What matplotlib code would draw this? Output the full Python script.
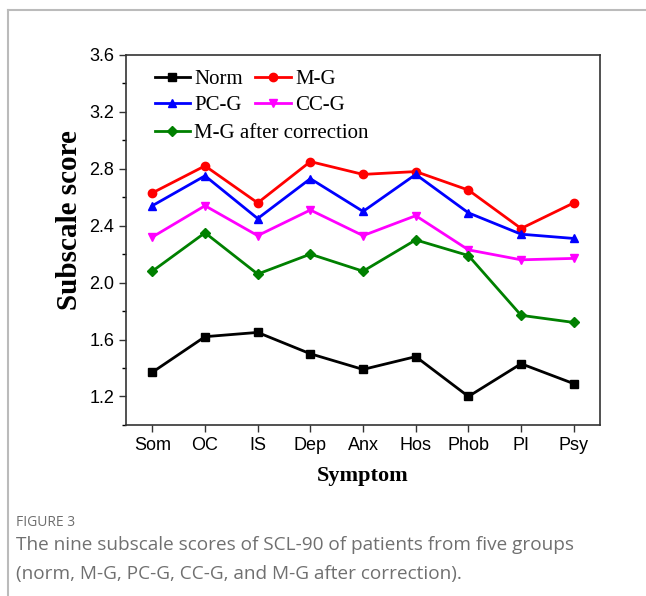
import numpy as np
import matplotlib.pyplot as plt
from matplotlib.lines import Line2D

symptoms = ['Som', 'OC', 'IS', 'Dep', 'Anx', 'Hos', 'Phob', 'PI', 'Psy']
norm = [1.37, 1.62, 1.65, 1.50, 1.39, 1.48, 1.20, 1.43, 1.29]
mg = [2.63, 2.82, 2.56, 2.85, 2.76, 2.78, 2.65, 2.38, 2.56]
pcg = [2.54, 2.75, 2.45, 2.73, 2.50, 2.76, 2.49, 2.34, 2.31]
ccg = [2.32, 2.54, 2.33, 2.51, 2.33, 2.47, 2.23, 2.16, 2.17]
mg_corr = [2.08, 2.35, 2.06, 2.20, 2.08, 2.30, 2.19, 1.77, 1.72]

fig = plt.figure(figsize=(6.46, 5.96), dpi=100)
ax = fig.add_axes([0.195, 0.287, 0.734, 0.621])

x = np.arange(len(symptoms))
kw = dict(lw=2, ms=6)
h_norm, = ax.plot(x, norm, '-s', color='black', label='Norm', **kw)
h_mg, = ax.plot(x, mg, '-o', color='red', label='M-G', **kw)
h_pcg, = ax.plot(x, pcg, '-^', color='blue', label='PC-G', **kw)
h_ccg, = ax.plot(x, ccg, '-v', color='magenta', label='CC-G', **kw)
h_corr, = ax.plot(x, mg_corr, '-D', color='green', label='M-G after correction',
                  lw=2, ms=5)

ax.set_xlim(-0.5, 8.5)
ax.set_ylim(1.0, 3.6)
ax.set_xticks(x)
ax.set_xticklabels(symptoms, fontfamily='Liberation Sans', fontsize=13)
ax.set_yticks([1.2, 1.6, 2.0, 2.4, 2.8, 3.2, 3.6])
ax.set_yticklabels(['1.2', '1.6', '2.0', '2.4', '2.8', '3.2', '3.6'],
                   fontfamily='Liberation Sans', fontsize=13)
ax.set_yticks(np.arange(1.0, 3.61, 0.2), minor=True)
ax.tick_params(axis='both', direction='out', length=5, width=1, colors='#333333',
               labelcolor='black')
ax.tick_params(axis='y', which='minor', direction='out', length=3, width=1)
for s in ax.spines.values():
    s.set_linewidth(1.2)
    s.set_color('#333333')

ax.set_xlabel('Symptom', fontfamily='Liberation Serif', fontweight='bold',
              fontsize=16, labelpad=9)
ax.set_ylabel('Subscale score', fontfamily='Liberation Serif', fontweight='bold',
              fontsize=21)
ax.yaxis.set_label_coords(-0.09, 0.554)

lprops = dict(family='Liberation Serif', size=15)
leg1 = ax.legend([h_norm, h_pcg, h_mg, h_ccg], ['Norm', 'PC-G', 'M-G', 'CC-G'],
                 ncol=2, frameon=False, prop=lprops, loc='upper left',
                 bbox_to_anchor=(0.041, 0.986), handlelength=1.7,
                 handletextpad=0.2, columnspacing=0.6, labelspacing=0.3,
                 borderaxespad=0.05)
ax.add_artist(leg1)
ax.legend([h_corr], ['M-G after correction'], frameon=False, prop=lprops,
          loc='upper left', bbox_to_anchor=(0.041, 0.986 - 0.146),
          handlelength=1.7, handletextpad=0.2, borderaxespad=0.05)

# card frame and caption
fig.add_artist(Line2D([0.012, 1.0], [0.983, 0.983], transform=fig.transFigure,
                      color='#bbbbbb', lw=1.5))
fig.add_artist(Line2D([0.012, 0.012], [0.0, 0.983], transform=fig.transFigure,
                      color='#bbbbbb', lw=1.5))
fig.text(0.025, 0.117, 'FIGURE 3', fontfamily='Open Sans', fontsize=10,
         color='#6e6e6e')
fig.text(0.025, 0.029,
         'The nine subscale scores of SCL-90 of patients from five groups\n'
         '(norm, M-G, PC-G, CC-G, and M-G after correction).',
         fontfamily='Open Sans', fontsize=13.7,
         color='#707070', linespacing=1.75)

fig.savefig('out.png', dpi=100)
